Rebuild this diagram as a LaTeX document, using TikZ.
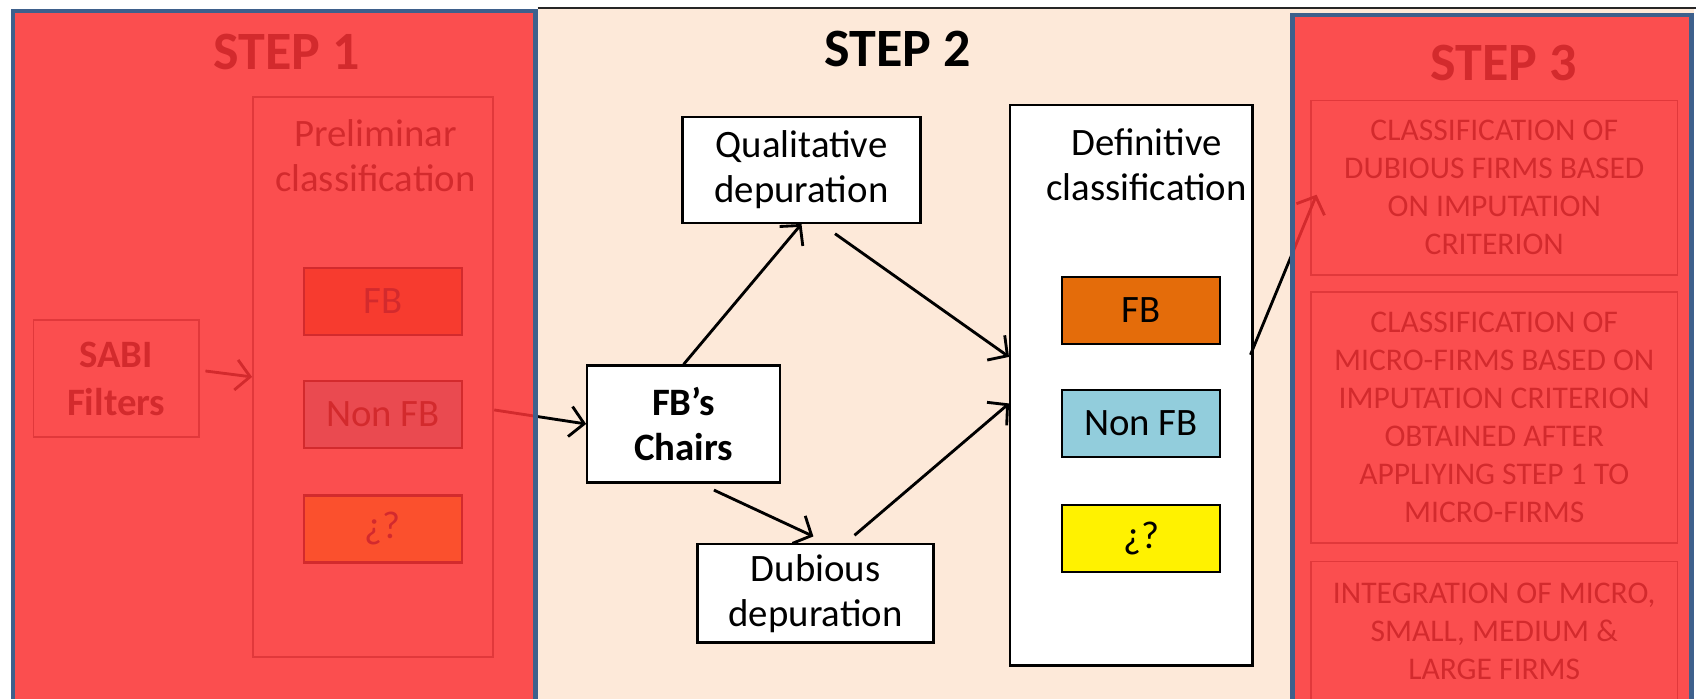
\documentclass[tikz,border=0pt]{standalone}
\usepackage{fontspec}
\setmainfont{Carlito}
\usetikzlibrary{arrows.meta}
\definecolor{peach}{RGB}{253,233,217}
\definecolor{fborange}{RGB}{228,108,10}
\definecolor{nonblue}{RGB}{146,205,220}
\definecolor{veilred}{RGB}{251,50,54}
\definecolor{frameblue}{RGB}{62,96,140}

\begin{document}
\begin{tikzpicture}[x=0.01cm,y=-0.01cm,>={Straight Barb[length=1.3mm,width=2.8mm]},
  steptitle/.style={font=\fontsize{14.2pt}{16pt}\selectfont\bfseries},
  txt/.style={align=center,font=\fontsize{10.2pt}{11.8pt}\selectfont},
  stepbox/.style={txt,draw,line width=0.6pt,fill=white,inner sep=0pt},
  holder/.style={draw=black!65,line width=0.5pt,inner sep=0pt},
  classbox/.style={txt,draw,line width=0.6pt,minimum width=1.46cm,minimum height=0.62cm,inner sep=0pt},
  firmbox/.style={draw=black!65,line width=0.4pt,align=center,minimum width=3.39cm,inner sep=0pt,
    font=\fontsize{8.3pt}{10pt}\selectfont},
  arrow/.style={->,line width=0.75pt},
  veil/.style={fill=veilred,fill opacity=0.845},
  frame/.style={draw=frameblue,line width=1.2pt}]
  \useasboundingbox (0,0) rectangle (1568,646);
  \clip (0,0) rectangle (1568,646);
  \fill[white] (0,0) rectangle (1568,646);
  \fill[peach] (10,8) rectangle (1566,660);
  \draw[line width=0.5pt,black!85] (497,7.5) -- (1568,7.5);

  % step 1
  \node (ttlone) at (265,48) [steptitle] {STEP 1};
  \node (sabi) at (107.5,350) [stepbox,draw=black!65,line width=0.5pt,fill=none,
    minimum width=1.53cm,minimum height=1.08cm,font=\fontsize{10.2pt}{12.6pt}\selectfont\bfseries] {SABI\\Filters};
  \node (prelim) at (345,348.5) [holder,minimum width=2.22cm,minimum height=5.17cm] {};
  \node (prelimtxt) at (347,144) [txt] {Preliminar\\classification};
  \node (pfb) at (354,278.5) [classbox,fill=fborange] {FB};
  \node (pnon) at (354,383) [classbox,fill=nonblue] {Non FB};
  \node (pq) at (354,489) [classbox,fill=yellow] {¿?};

  % step 2
  \node (ttltwo) at (830,45) [steptitle] {STEP 2};
  \node (chairs) at (632,392) [stepbox,minimum width=1.78cm,minimum height=1.08cm,
    font=\fontsize{10.2pt}{11.8pt}\selectfont\bfseries] {FB’s\\Chairs};
  \node (qual) at (741,157) [stepbox,minimum width=2.20cm,minimum height=0.98cm] {Qualitative\\depuration};
  \node (dub) at (754,548.5) [stepbox,minimum width=2.18cm,minimum height=0.91cm] {Dubious\\depuration};
  \node (def) at (1046,356) [stepbox,minimum width=2.24cm,minimum height=5.18cm] {};
  \node (deftxt) at (1060,152) [txt] {Definitive\\classification};
  \node (dfb) at (1055,287) [classbox,fill=fborange] {FB};
  \node (dnon) at (1055,391.5) [classbox,fill=nonblue] {Non FB};
  \node (dq) at (1055,498) [classbox,fill=yellow] {¿?};

  % step 3
  \node (ttlthree) at (1390,58) [steptitle] {STEP 3};
  \node (crit) at (1381.5,173.5) [firmbox,minimum height=1.61cm]
    {CLASSIFICATION OF\\DUBIOUS FIRMS BASED\\ON IMPUTATION\\CRITERION};
  \node (micro) at (1381.5,386) [firmbox,minimum height=2.32cm]
    {CLASSIFICATION OF\\MICRO-FIRMS BASED ON\\IMPUTATION CRITERION\\OBTAINED AFTER\\APPLIYING STEP 1 TO\\MICRO-FIRMS};
  \node (integ) at (1381.5,584) [firmbox,minimum height=1.30cm]
    {INTEGRATION OF MICRO,\\SMALL, MEDIUM \&\\LARGE FIRMS};

  \draw[arrow] ([xshift=0.05cm,yshift=0.07cm]sabi.east) -- (prelim.west);
  \draw[arrow] ([yshift=-0.305cm]prelim.east) -- (chairs.west);
  \draw[arrow] (chairs.north) -- (qual.south);
  \draw[arrow] ([xshift=0.31cm,yshift=-0.09cm]qual.south) -- ([yshift=0.26cm]def.west);
  \draw[arrow] ([xshift=0.28cm,yshift=-0.06cm]chairs.south) -- ([xshift=-0.02cm,yshift=0.06cm]dub.north);
  \draw[arrow] ([xshift=0.36cm,yshift=0.07cm]dub.north) -- ([yshift=-0.17cm]def.west);
  \draw[arrow] ([xshift=-0.03cm,yshift=0.28cm]def.east) -- ([xshift=0.06cm,yshift=-0.065cm]crit.west);

  % red veils over steps 1 and 3
  \fill[veil] (10,8) rectangle (497,660);
  \fill[veil] (1193,12) rectangle (1566,660);
  \draw[frame] (12,10) rectangle (495,700);
  \draw[frame] (1195,14) rectangle (1564,700);
\end{tikzpicture}
\end{document}
